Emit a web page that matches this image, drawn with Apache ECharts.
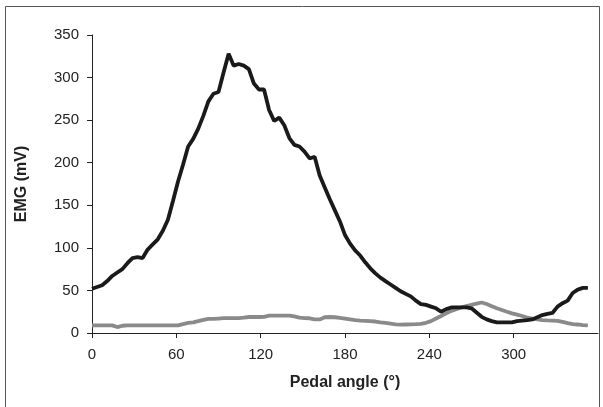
<!DOCTYPE html>
<html><head><meta charset="utf-8">
<script src="https://cdn.jsdelivr.net/npm/echarts@6/dist/echarts.min.js"></script>
<style>html,body{margin:0;padding:0;background:#fff}#c{width:603px;height:407px}</style>
</head><body><div id="c"></div>
<script>
const angles = [0,3.6,7.2,10.8,14.4,18,21.6,25.2,28.8,32.4,36,39.6,43.2,46.8,50.4,54,57.6,61.2,64.8,68.4,72,75.6,79.2,82.8,86.4,90,93.6,97.2,100.8,104.4,108,111.6,115.2,118.8,122.4,126,129.6,133.2,136.8,140.4,144,147.6,151.2,154.8,158.4,162,165.6,169.2,172.8,176.4,180,183.6,187.2,190.8,194.4,198,201.6,205.2,208.8,212.4,216,219.6,223.2,226.8,230.4,234,237.6,241.2,244.8,248.4,252,255.6,259.2,262.8,266.4,270,273.6,277.2,280.8,284.4,288,291.6,295.2,298.8,302.4,306,309.6,313.2,316.8,320.4,324,327.6,331.2,334.8,338.4,342,345.6,349.2,352.8];
const emgBlack = [52,54,56,61,67,71,75,82,88,89,88,98,104,110,120,133,155,178,198,219,228,240,255,272,281,283,306,328,314,316,314,310,293,286,286,262,249,253,244,229,221,219,213,205,207,185,171,157,144,131,115,105,97,91,83,76,70,65,61,57,53,49,46,43,38,34,33,31,29,25,28,30,30,30,30,29,24,19,16,14,12.5,12.5,12.5,12.5,14,14.5,15,16,18.5,21,22.5,23.5,31,35,38,47,51,53,53];
const emgGray = [9,9,9,9,9,7,8.5,9,9,9,9,9,9,9,9,9,9,9,10.5,12,12.5,14,15.5,16.5,16.5,17,17.5,17.5,17.5,17.5,18,18.8,18.8,18.8,19,20.3,20.3,20.3,20.3,20.3,19.5,18,17.5,17.3,16,16,18.5,18.8,18.5,17.8,17,16,15,14.5,14.3,14,13.5,12.5,11.8,11,10.2,9.8,10,10.2,10.4,10.8,12,14,17,20,23,26,28,30,31.5,33,34.5,35.8,34,31.5,29,27,25,23,21.5,20,18,17,16,15.2,14.8,14.5,14.2,13,11.5,10.5,10,9.2,8.9];
const xTicks = [0,60,120,180,240,300];
const yTicks = [0,50,100,150,200,250,300,350];

const font = 'Liberation Sans, Arial, sans-serif';
const chart = echarts.init(document.getElementById('c'), null, {renderer:'canvas'});
chart.setOption({
  animation:false,
  backgroundColor:'#fff',
  graphic:[{type:'rect',shape:{x:5.5,y:6.5,width:594,height:410},style:{fill:'none',stroke:'#555',lineWidth:1}}],
  grid:{left:92,right:5,top:35,bottom:74},
  xAxis:{type:'value',min:0,max:360,interval:60,
    name:'Pedal angle (°)',nameLocation:'middle',nameGap:42,
    nameTextStyle:{fontFamily:font,fontSize:16,fontWeight:'bold',color:'#222'},
    axisLine:{lineStyle:{color:'#222',width:1}},
    axisTick:{show:true,inside:false,length:5,customValues:xTicks,lineStyle:{color:'#222'}},
    axisLabel:{fontFamily:font,fontSize:15,color:'#222',margin:14,customValues:xTicks},
    splitLine:{show:false}},
  yAxis:{type:'value',min:0,max:350,interval:50,
    name:'EMG (mV)',nameLocation:'middle',nameGap:62,nameRotate:90,
    nameTextStyle:{fontFamily:font,fontSize:16,fontWeight:'bold',color:'#222'},
    axisLine:{show:true,lineStyle:{color:'#222',width:1}},
    axisTick:{show:true,inside:false,length:5,customValues:yTicks,lineStyle:{color:'#222'}},
    axisLabel:{fontFamily:font,fontSize:15,color:'#222',margin:13,customValues:yTicks},
    splitLine:{show:false}},
  series:[
    {type:'line',data:angles.map((a,i)=>[a,emgGray[i]]),showSymbol:false,
      lineStyle:{color:'#8a8a8a',width:3.8},z:2},
    {type:'line',data:angles.map((a,i)=>[a,emgBlack[i]]),showSymbol:false,
      lineStyle:{color:'#1a1a1a',width:3.8},z:3}
  ]
});
</script></body></html>
